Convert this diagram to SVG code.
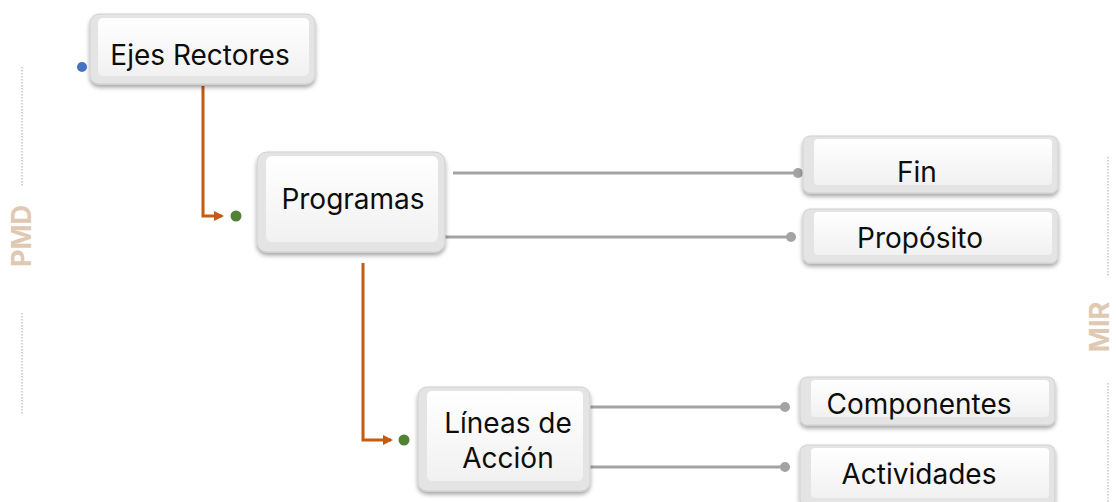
<svg xmlns="http://www.w3.org/2000/svg" width="1116" height="502" viewBox="0 0 1116 502">
<defs>
<style>
.lbl{font-family:Inter,"Open Sans","Liberation Sans",sans-serif;font-size:28px;font-weight:400;fill:#0d0d0d;text-anchor:middle}
.side{font-family:Inter,"Open Sans","Liberation Sans",sans-serif;font-size:27px;font-weight:700;fill:#e0c9b3;text-anchor:middle}
.dash{stroke:#a8a8a8;stroke-width:1;stroke-dasharray:1.5 1.5;fill:none}
.gray{stroke:#a3a3a3;stroke-width:3;fill:none}
.orange{stroke:#c55a11;stroke-width:3;fill:none}
.outer{fill:#e4e4e4;stroke:#cfcfcf;stroke-width:1}
.face{fill:url(#faceg)}
</style>
<linearGradient id="faceg" x1="0" y1="0" x2="0" y2="1">
<stop offset="0" stop-color="#ffffff"/>
<stop offset="1" stop-color="#f1f1f1"/>
</linearGradient>
<filter id="sh" x="-10%" y="-20%" width="120%" height="150%">
<feDropShadow dx="0" dy="3" stdDeviation="2" flood-color="#000" flood-opacity="0.35"/>
</filter>
<marker id="arr" markerWidth="10" markerHeight="10" refX="8" refY="5" orient="auto" markerUnits="userSpaceOnUse">
<path d="M0,0 L10,5 L0,10 Z" fill="#c55a11"/>
</marker>
</defs>
<rect width="1116" height="502" fill="#ffffff"/>

<g id="side-labels">
<line class="dash" x1="22" y1="67" x2="22" y2="187"/>
<line class="dash" x1="22" y1="313" x2="22" y2="415"/>
<text class="side" transform="translate(31,236) rotate(-90)">PMD</text>
<line class="dash" x1="1108" y1="157" x2="1108" y2="276"/>
<line class="dash" x1="1108" y1="383" x2="1108" y2="502"/>
<text class="side" transform="translate(1109,327) rotate(-90)">MIR</text>
</g>

<g id="connectors">
<path class="orange" d="M203,86 V216 H222" marker-end="url(#arr)"/>
<path class="orange" d="M363,263 V440 H391" marker-end="url(#arr)"/>
<circle cx="82" cy="67" r="5" fill="#4472c4"/>
<circle cx="236" cy="216" r="5.5" fill="#548235"/>
<circle cx="404" cy="440" r="5.5" fill="#548235"/>
<path class="gray" d="M453,173 H797"/>
<circle cx="798" cy="173" r="5" fill="#a3a3a3"/>
<path class="gray" d="M445,237 H790"/>
<circle cx="791" cy="237" r="5" fill="#a3a3a3"/>
<path class="gray" d="M590,407 H784"/>
<circle cx="785" cy="407" r="5" fill="#a3a3a3"/>
<path class="gray" d="M590,467 H784"/>
<circle cx="785" cy="467" r="5" fill="#a3a3a3"/>
</g>

<g id="ejes-rectores">
<rect class="outer" x="90" y="14" width="225" height="70" rx="9" filter="url(#sh)"/>
<rect class="face" x="98" y="18" width="211" height="58" rx="5"/>
<text class="lbl" x="200" y="65">Ejes Rectores</text>
</g>

<g id="programas">
<rect class="outer" x="257" y="152" width="188" height="100" rx="10" filter="url(#sh)"/>
<rect class="face" x="266" y="156" width="172" height="86" rx="6"/>
<text class="lbl" x="353" y="209">Programas</text>
</g>

<g id="lineas-de-accion">
<rect class="outer" x="418" y="387" width="172" height="104" rx="9" filter="url(#sh)"/>
<rect class="face" x="427" y="391" width="156" height="90" rx="5"/>
<text class="lbl" x="508" y="433">Líneas de</text>
<text class="lbl" x="508" y="468">Acción</text>
</g>

<g id="fin">
<rect class="outer" x="803" y="136" width="255" height="57" rx="7" filter="url(#sh)"/>
<rect class="face" x="814" y="139" width="238" height="46" rx="4"/>
<text class="lbl" x="917" y="182">Fin</text>
</g>

<g id="proposito">
<rect class="outer" x="803" y="209" width="255" height="54" rx="7" filter="url(#sh)"/>
<rect class="face" x="814" y="212" width="238" height="43" rx="4"/>
<text class="lbl" x="920" y="248">Propósito</text>
</g>

<g id="componentes">
<rect class="outer" x="800" y="377" width="255" height="48" rx="7" filter="url(#sh)"/>
<rect class="face" x="811" y="380" width="238" height="37" rx="4"/>
<text class="lbl" x="919" y="414">Componentes</text>
</g>

<g id="actividades">
<rect class="outer" x="800" y="445" width="255" height="62" rx="7" filter="url(#sh)"/>
<rect class="face" x="811" y="448" width="238" height="50" rx="4"/>
<text class="lbl" x="919" y="484">Actividades</text>
</g>
</svg>
